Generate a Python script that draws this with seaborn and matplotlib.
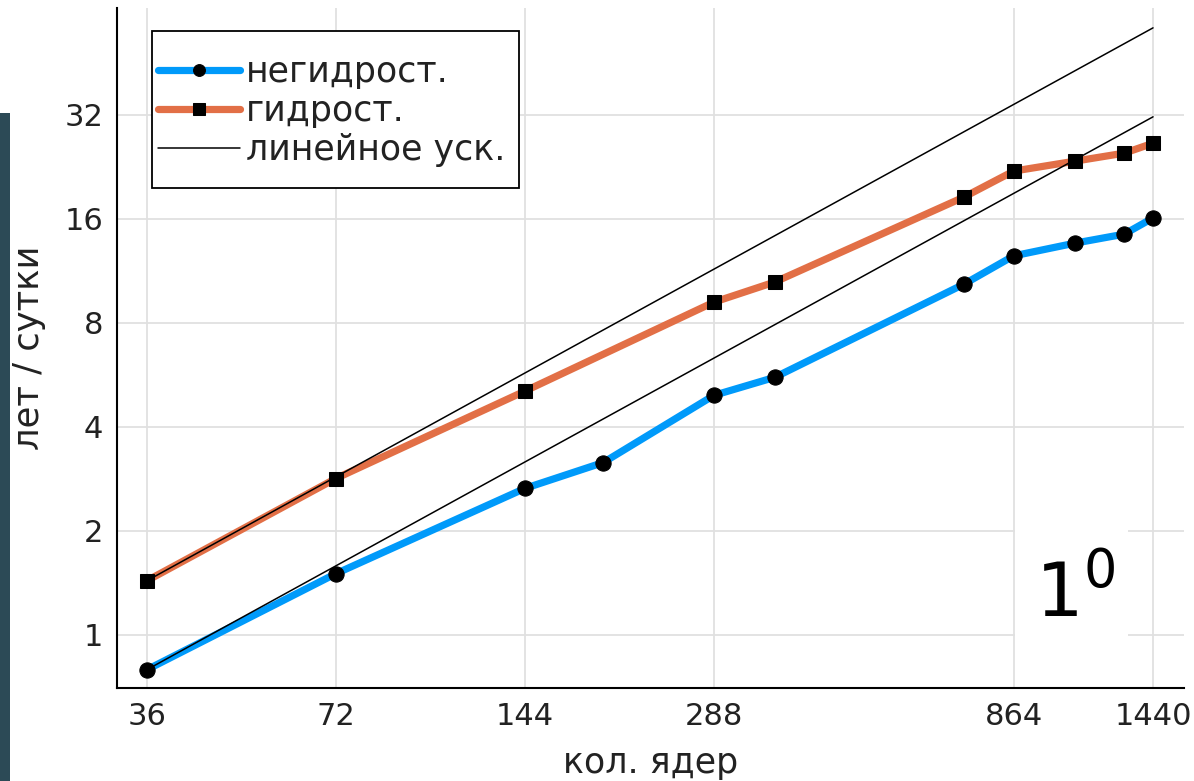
import numpy as np
import pandas as pd
import matplotlib
matplotlib.use("Agg")
import matplotlib.pyplot as plt
import seaborn as sns
from matplotlib.patches import Rectangle

# ---- data ----
cores_nonhydro = [36, 72, 144, 192, 288, 360, 720, 864, 1080, 1296, 1440]
speed_nonhydro = [0.79, 1.50, 2.65, 3.15, 4.93, 5.56, 10.35, 12.5, 13.6, 14.45, 16.1]
cores_hydro = [36, 72, 144, 288, 360, 720, 864, 1080, 1296, 1440]
speed_hydro = [1.43, 2.83, 5.07, 9.18, 10.5, 18.5, 22.0, 23.5, 24.8, 26.5]
ideal_x = [36, 1440]
ideal_upper = [1.43, 57.2]
ideal_lower = [0.79, 31.6]
x_ticks = [36, 72, 144, 288, 864, 1440]
y_ticks = [1, 2, 4, 8, 16, 32]
labels = ["негидрост.", "гидрост.", "линейное уск."]

sns.set_style("white")
plt.rcParams["font.family"] = ["DejaVu Sans"]

W, H = 1194, 781
fig = plt.figure(figsize=(W / 100, H / 100), dpi=100)
ax = fig.add_axes([117 / W, 1 - 688 / H, (1184 - 117) / W, (688 - 8) / H])

blue = "#009AFA"
orange = "#E26F46"

df_b = pd.DataFrame({"x": cores_nonhydro, "y": speed_nonhydro})
df_h = pd.DataFrame({"x": cores_hydro, "y": speed_hydro})
sns.lineplot(data=df_b, x="x", y="y", ax=ax, color=blue, lw=5.2, marker="o",
             markersize=11, markerfacecolor="black", markeredgecolor="black",
             label=labels[0], zorder=3)
sns.lineplot(data=df_h, x="x", y="y", ax=ax, color=orange, lw=5.2, marker="s",
             markersize=10.5, markerfacecolor="black", markeredgecolor="black",
             label=labels[1], zorder=3)
sns.lineplot(x=ideal_x, y=ideal_upper, ax=ax, color="black", lw=1.1,
             label=labels[2], zorder=4)
sns.lineplot(x=ideal_x, y=ideal_lower, ax=ax, color="black", lw=1.1, zorder=4)

ax.set_xscale("log", base=2)
ax.set_yscale("log", base=2)
ax.set_xlim(32.3, 1613)
ax.set_ylim(0.70, 65.3)
ax.set_xticks(x_ticks)
ax.set_xticklabels([str(v) for v in x_ticks])
ax.set_yticks(y_ticks)
ax.set_yticklabels([str(v) for v in y_ticks])
ax.minorticks_off()
ax.tick_params(axis="both", direction="in", length=7, width=1.2, colors="black",
               labelsize=22, labelcolor="#222222")
ax.tick_params(axis="x", pad=10)
ax.tick_params(axis="y", pad=10)
ax.grid(True, color="#e0e0e0", lw=1.3)
for s in ["top", "right"]:
    ax.spines[s].set_visible(False)
for s in ["left", "bottom"]:
    ax.spines[s].set_color("black")
    ax.spines[s].set_linewidth(1.5)

ax.set_xlabel("кол. ядер", fontsize=25, color="#222222", labelpad=11)
ax.set_ylabel("лет / сутки", fontsize=25.5, color="#222222", labelpad=13)

leg = ax.legend(loc="upper left",
                bbox_to_anchor=((158 - 117) / 1067, (688 - 55) / 680),
                borderaxespad=0, fontsize=25, frameon=False,
                handlelength=2.35, handletextpad=0.17, labelspacing=0.15,
                borderpad=0)
leg.set_zorder(6)
for h in leg.legend_handles:
    h.set_solid_capstyle("round")
    if h.get_marker() not in (None, "None", ""):
        h.set_markersize(8.5)
for t in leg.get_texts():
    t.set_color("#222222")

# legend frame
ax.add_patch(Rectangle((152 / W, 1 - 188 / H), (519 - 152) / W, (188 - 31) / H,
                       transform=fig.transFigure, facecolor="white",
                       edgecolor="black", lw=1.3, zorder=5.5, clip_on=False))

# annotation "1^0" in a white box
fig.patches.append(Rectangle((1015 / W, 1 - 640 / H), 113 / W, 118 / H,
                             transform=fig.transFigure, facecolor="white",
                             edgecolor="none", zorder=5))
fig.text(1035 / W, 1 - 617 / H, r"$\mathregular{1^{0}}$", fontsize=54,
         family="DejaVu Sans", color="black", va="baseline", ha="left", zorder=6)

# dark strip at the left edge
fig.patches.append(Rectangle((0, 0), 10 / W, 1 - 113 / H, transform=fig.transFigure,
                             facecolor="#2c4a56", edgecolor="none", zorder=5))

fig.savefig("out.png", dpi=100)
